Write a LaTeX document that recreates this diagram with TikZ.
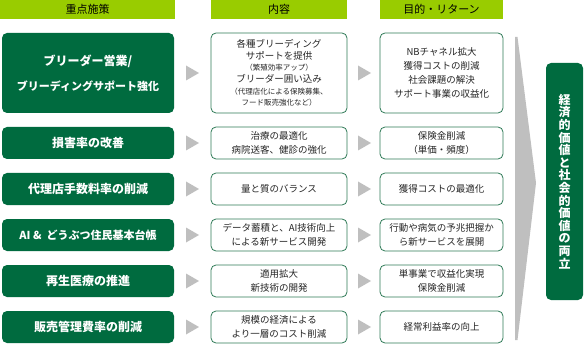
\documentclass[tikz,border=0pt]{standalone}
\usepackage{fontspec}
\setmainfont{Noto Sans CJK JP}
\usepackage{tikz}
\usetikzlibrary{positioning,calc}
\usepackage{xcolor}
\definecolor{deepgreen}{HTML}{006B3F}
\definecolor{leafgreen}{HTML}{99CC00}
\definecolor{edgegreen}{HTML}{2F7A57}
\definecolor{softgrey}{HTML}{BFBFBF}
\definecolor{inktext}{HTML}{262626}

\begin{document}
\begin{tikzpicture}[
  x=1pt, y=1pt,
  font=\fontsize{9.5}{14}\selectfont,
  head/.style={fill=leafgreen, minimum height=19pt, inner sep=0pt, outer sep=0pt,
    font=\fontsize{11}{12}\selectfont, text=black},
  measure/.style={fill=deepgreen, rounded corners=5pt, minimum width=172pt, minimum height=32pt,
    inner sep=0pt, outer sep=0pt, align=center, text=white,
    font=\fontsize{12}{14}\selectfont\bfseries},
  plan/.style={draw=edgegreen, line width=0.8pt, fill=white, rounded corners=5pt,
    minimum width=136pt, minimum height=32pt, inner sep=0pt, outer sep=0pt,
    align=center, text=inktext},
  goal/.style={plan, minimum width=123pt},
  tri/.style={fill=softgrey},
]
\useasboundingbox (0,0) rectangle (585,-347);
% column heads
\node[head, minimum width=175pt] (H1) at (87.5,-9.5) {重点施策};
\node[head, minimum width=136pt] (H2) at (279,-9.5) {内容};
\node[head, minimum width=123pt] (H3) at (441.5,-9.5) {目的・リターン};
% key measures
\node[measure, minimum height=80pt, font=\fontsize{12}{25}\selectfont\bfseries] (L1) at (88,-73)
  {ブリーダー営業/\\\fontsize{11}{25}\selectfont ブリーディングサポート強化};
\node[measure, below=14pt of L1] (L2) {損害率の改善};
\node[measure, below=14pt of L2] (L3) {代理店手数料率の削減};
\node[measure, below=14pt of L3, font=\fontsize{11}{14}\selectfont\bfseries] (L4) {AI \&\ \ どうぶつ住民基本台帳};
\node[measure, below=14pt of L4] (L5) {再生医療の推進};
\node[measure, below=14pt of L5] (L6) {販売管理費率の削減};
% contents
\node[plan, right=37pt of L1, minimum height=80pt, font=\fontsize{9.5}{11.6}\selectfont] (C1)
  {各種ブリーディング\\サポートを提供\\{\fontsize{7.5}{11.6}\selectfont（繁殖効率アップ）}\\
   ブリーダー囲い込み\\{\fontsize{7.5}{11.6}\selectfont（代理店化による保険募集、}\\
   {\fontsize{7.5}{11.6}\selectfont フード販売強化など）}};
\node[plan, right=37pt of L2] (C2) {治療の最適化\\病院送客、健診の強化};
\node[plan, right=37pt of L3] (C3) {量と質のバランス};
\node[plan, right=37pt of L4] (C4) {データ蓄積と、AI技術向上\\による新サービス開発};
\node[plan, right=37pt of L5] (C5) {適用拡大\\新技術の開発};
\node[plan, right=37pt of L6] (C6) {規模の経済による\\より一層のコスト削減};
% returns
\node[goal, right=33pt of C1, minimum height=80pt] (R1)
  {NBチャネル拡大\\獲得コストの削減\\社会課題の解決\\サポート事業の収益化};
\node[goal, right=33pt of C2] (R2) {保険金削減\\（単価・頻度）};
\node[goal, right=33pt of C3] (R3) {獲得コストの最適化};
\node[goal, right=33pt of C4] (R4) {行動や病気の予兆把握か\\ら新サービスを展開};
\node[goal, right=33pt of C5] (R5) {単事業で収益化実現\\保険金削減};
\node[goal, right=33pt of C6] (R6) {経常利益率の向上};
% small arrows between columns
\foreach \r in {1,...,6} {
  \fill[tri] ($(L\r.east)+(12pt,7.5pt)$) -- ++(13pt,-7.5pt) -- ++(-13pt,-7.5pt) -- cycle;
  \fill[tri] ($(C\r.east)+(11pt,7.5pt)$) -- ++(13pt,-7.5pt) -- ++(-13pt,-7.5pt) -- cycle;
}
% big wedge into the outcome
\fill[tri] (515,-37) -- (517.5,-37) -- (536,-183) -- (517.5,-340) -- (515,-340) -- cycle;
\node[fill=deepgreen, rounded corners=5pt, minimum width=37pt, minimum height=237pt,
  inner sep=0pt, align=center, text=white, font=\fontsize{12}{12.6}\selectfont\bfseries] (V) at (564.5,-181.5)
  {経\\済\\的\\価\\値\\と\\社\\会\\的\\価\\値\\の\\両\\立};
\end{tikzpicture}
\end{document}
